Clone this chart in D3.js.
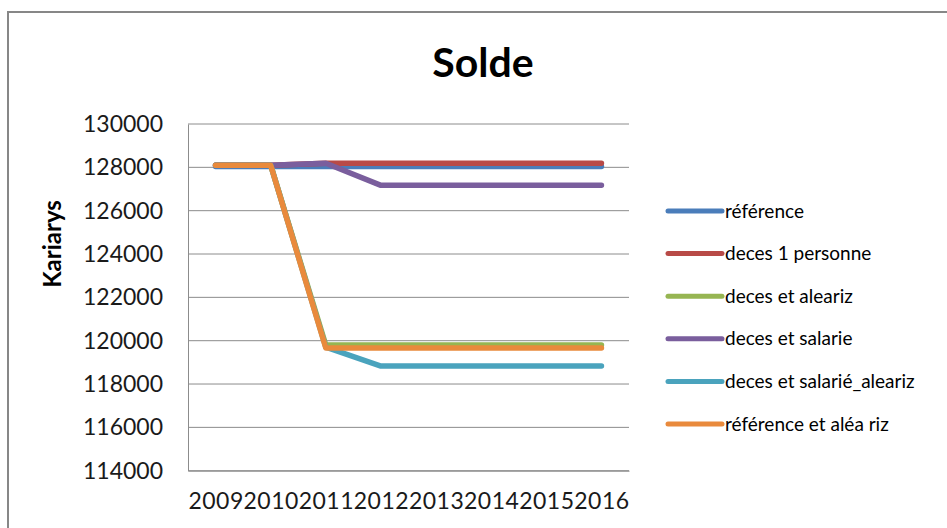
<!DOCTYPE html>
<html>
<head>
<meta charset="utf-8">
<script src="https://cdn.jsdelivr.net/npm/d3@7"></script>
<style>
  html, body { margin: 0; padding: 0; background: #fff; }
  svg { display: block; }
</style>
</head>
<body>
<svg id="chart" width="947" height="528"></svg>
<script>
const years = ["2009", "2010", "2011", "2012", "2013", "2014", "2015", "2016"];
const yTicks = [114000, 116000, 118000, 120000, 122000, 124000, 126000, 128000, 130000];
const seriesNames = ["référence", "deces 1 personne", "deces et aleariz", "deces et salarie", "deces et salarié_aleariz", "référence et aléa riz"];
const seriesColors = ["#4A7DBA", "#B84A47", "#96B552", "#7A5E9D", "#4AA3BD", "#E98A3C"];
const reference      = [128040, 128040, 128040, 128040, 128040, 128040, 128040, 128040];
const deces1         = [128100, 128100, 128190, 128190, 128190, 128190, 128190, 128190];
const decesAleariz   = [128100, 128100, 119800, 119800, 119800, 119800, 119800, 119800];
const decesSalarie   = [128100, 128100, 128190, 127170, 127170, 127170, 127170, 127170];
const decesSalAleariz= [128100, 128100, 119700, 118830, 118830, 118830, 118830, 118830];
const refAleaRiz     = [128100, 128100, 119660, 119660, 119660, 119660, 119660, 119660];
const seriesValues = [reference, deces1, decesAleariz, decesSalarie, decesSalAleariz, refAleaRiz];

(function () {
const svg = d3.select("#chart");
const font = "Lato, 'Open Sans', sans-serif";

// outer chart border
svg.append("rect").attr("x", 8).attr("y", 12).attr("width", 950).attr("height", 530)
  .attr("fill", "#fff").attr("stroke", "#878787").attr("stroke-width", 2);

const pLeft = 188, pRight = 629, pTop = 124, pBottom = 470.7;
const x = d3.scalePoint().domain(years).range([pLeft, pRight]).padding(0.5);
const y = d3.scaleLinear().domain([114000, 130000]).range([pBottom, pTop]);

// gridlines
svg.append("g").selectAll("line").data(yTicks).join("line")
  .attr("x1", pLeft).attr("x2", pRight)
  .attr("y1", d => y(d)).attr("y2", d => y(d))
  .attr("stroke", "#8c8c8c").attr("stroke-width", 1);

// y axis
const yAxis = svg.append("g").attr("transform", `translate(${pLeft},0)`)
  .call(d3.axisLeft(y).tickValues(yTicks).tickSize(0).tickPadding(25).tickFormat(d3.format("d")));
yAxis.select(".domain").attr("stroke", "#8c8c8c");
yAxis.selectAll("text").attr("font-family", font).attr("font-size", 23).attr("fill", "#1a1a1a");

// x axis
const xAxis = svg.append("g").attr("transform", `translate(0,${pBottom})`)
  .call(d3.axisBottom(x).tickSize(0).tickPadding(22));
xAxis.select(".domain").attr("stroke", "#8c8c8c");
xAxis.selectAll("text").attr("font-family", font).attr("font-size", 23).attr("letter-spacing", 0.5).attr("fill", "#1a1a1a");

// lines
const line = d3.line().x((d, i) => x(years[i])).y(d => y(d));
svg.append("g").selectAll("path").data(seriesValues).join("path")
  .attr("d", d => line(d))
  .attr("fill", "none")
  .attr("stroke", (d, i) => seriesColors[i])
  .attr("stroke-width", 5.5)
  .attr("stroke-linecap", "round")
  .attr("stroke-linejoin", "round");

// title
svg.append("text").attr("x", 483).attr("y", 77).attr("text-anchor", "middle")
  .attr("font-family", font).attr("font-weight", "bold").attr("font-size", 41)
  .attr("fill", "#000").text("Solde");

// y label
svg.append("text").attr("transform", "translate(61,244) rotate(-90)")
  .attr("text-anchor", "middle").attr("font-family", font).attr("font-weight", "bold")
  .attr("font-size", 24).attr("fill", "#000").text("Kariarys");

// legend
const legY = d3.scalePoint().domain(seriesNames).range([211, 424]);
const leg = svg.append("g").selectAll("g").data(seriesNames).join("g")
  .attr("transform", d => `translate(0,${legY(d)})`);
leg.append("line").attr("x1", 668).attr("x2", 722).attr("y1", 0).attr("y2", 0)
  .attr("stroke", (d, i) => seriesColors[i]).attr("stroke-width", 5).attr("stroke-linecap", "round");
leg.append("text").attr("x", 725).attr("y", 0).attr("dy", "0.35em")
  .attr("font-family", font).attr("font-size", 19).attr("fill", "#000").text(d => d);
})();
</script>
</body>
</html>
